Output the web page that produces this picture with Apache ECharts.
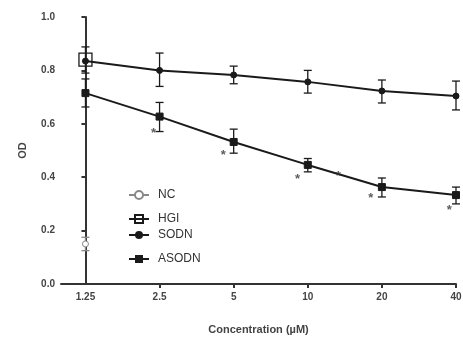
<!DOCTYPE html>
<html>
<head>
<meta charset="utf-8">
<script src="https://cdn.jsdelivr.net/npm/echarts@6/dist/echarts.min.js"></script>
<style>
  html, body { margin: 0; padding: 0; background: #fff; }
  #chart { width: 463px; height: 337px; }
</style>
</head>
<body>
<div id="chart"></div>
<script>
const concLabels = ['1.25', '2.5', '5', '10', '20', '40'];
const xIdx = [0, 1, 2, 3, 4, 5];
const yTicks = ['0.0', '0.2', '0.4', '0.6', '0.8', '1.0'];

const sodnMean = [0.835, 0.800, 0.783, 0.757, 0.723, 0.704];
const sodnLow  = [0.790, 0.740, 0.750, 0.715, 0.678, 0.652];
const sodnHigh = [0.888, 0.865, 0.816, 0.800, 0.764, 0.760];

const asodnMean = [0.715, 0.627, 0.532, 0.446, 0.363, 0.333];
const asodnLow  = [0.663, 0.571, 0.490, 0.420, 0.326, 0.300];
const asodnHigh = [0.768, 0.680, 0.580, 0.470, 0.397, 0.363];

const ncMean = [0.150], ncLow = [0.125], ncHigh = [0.175];
const hgiMean = [0.840];

// asterisks: [x position on index scale, y value]
const starX = [0.92, 1.86, 2.86, 3.41, 3.85, 4.91];
const starY = [0.577, 0.494, 0.404, 0.416, 0.330, 0.288];

const FONT = 'Liberation Sans, Arial, sans-serif';
const INK = '#1a1a1a';

function pts(xs, ys) { return ys.map((v, i) => [xs[i], v]); }
function errData(xs, lo, hi) { return lo.map((v, i) => [xs[i], v, hi[i]]); }

function errSeries(name, data, color) {
  return {
    name: name + '_err',
    type: 'custom',
    silent: true,
    z: 1,
    data: data,
    renderItem: function (params, api) {
      const x = api.value(0);
      const a = api.coord([x, api.value(1)]);
      const b = api.coord([x, api.value(2)]);
      const w = 4;
      const st = { stroke: color, lineWidth: 1.3 };
      return {
        type: 'group',
        children: [
          { type: 'line', shape: { x1: a[0], y1: a[1], x2: b[0], y2: b[1] }, style: st },
          { type: 'line', shape: { x1: a[0] - w, y1: a[1], x2: a[0] + w, y2: a[1] }, style: st },
          { type: 'line', shape: { x1: b[0] - w, y1: b[1], x2: b[0] + w, y2: b[1] }, style: st }
        ]
      };
    }
  };
}

function legendAt(name, top) {
  return {
    data: [name], left: 128, top: top, orient: 'vertical',
    itemWidth: 20, itemHeight: 10, itemGap: 0, padding: 0,
    selectedMode: false,
    textStyle: { fontFamily: FONT, fontSize: 12, color: '#333', padding: [0, 0, 0, 4] }
  };
}

const chart = echarts.init(document.getElementById('chart'), null, { renderer: 'canvas' });

const option = {
  animation: false,
  backgroundColor: '#fff',
  grid: { left: 61, right: 7, top: 17, bottom: 53, containLabel: false, outerBoundsMode: 'none' },
  legend: [
    legendAt('NC', 189),
    legendAt('HGI', 213),
    legendAt('SODN', 229),
    legendAt('ASODN', 253)
  ],
  xAxis: {
    type: 'value',
    min: -0.33, max: 5,
    name: 'Concentration (\u00b5M)',
    nameLocation: 'middle',
    nameGap: 40,
    nameTextStyle: { fontFamily: FONT, fontSize: 11, fontWeight: 'bold', color: '#444' },
    splitLine: { show: false },
    axisLine: { lineStyle: { color: '#333', width: 2 } },
    axisTick: { show: true, customValues: [1, 2, 3, 4, 5], length: 4, inside: false, lineStyle: { color: '#333', width: 2 } },
    axisLabel: {
      customValues: xIdx,
      formatter: function (v) { return concLabels[Math.round(v)]; },
      margin: 8,
      fontFamily: FONT, fontSize: 10, fontWeight: 'bold', color: '#444'
    }
  },
  yAxis: {
    type: 'value',
    min: 0, max: 1, interval: 0.2,
    name: 'OD',
    nameLocation: 'middle',
    nameGap: 33,
    nameTextStyle: { fontFamily: FONT, fontSize: 11, fontWeight: 'bold', color: '#444' },
    splitLine: { show: false },
    axisLine: { show: true, lineStyle: { color: '#333', width: 2 } },
    axisTick: { show: true, length: 4, lineStyle: { color: '#333', width: 2 } },
    axisLabel: {
      formatter: function (v) { return yTicks[Math.round(v * 5)]; },
      margin: 6,
      fontFamily: FONT, fontSize: 10, fontWeight: 'bold', color: '#444'
    }
  },
  series: [
    errSeries('SODN', errData(xIdx, sodnLow, sodnHigh), INK),
    errSeries('ASODN', errData(xIdx, asodnLow, asodnHigh), INK),
    errSeries('NC', errData([0], ncLow, ncHigh), '#888'),
    {
      name: 'NC', type: 'line', data: pts([0], ncMean),
      symbol: 'circle', symbolSize: 6,
      itemStyle: { color: '#fff', borderColor: '#888', borderWidth: 1 },
      lineStyle: { color: '#888', width: 2 }, z: 3
    },
    {
      name: 'HGI', type: 'line', data: pts([0], hgiMean),
      symbol: 'rect', symbolSize: 13,
      itemStyle: { color: 'rgba(255,255,255,0)', borderColor: INK, borderWidth: 1.3 },
      lineStyle: { color: INK, width: 2 }, z: 4
    },
    {
      name: 'SODN', type: 'line', data: pts(xIdx, sodnMean),
      symbol: 'circle', symbolSize: 6,
      itemStyle: { color: INK, borderColor: INK },
      lineStyle: { color: INK, width: 2 }, z: 3
    },
    {
      name: 'ASODN', type: 'line', data: pts(xIdx, asodnMean),
      symbol: 'rect', symbolSize: 7,
      itemStyle: { color: INK, borderColor: INK },
      lineStyle: { color: INK, width: 2 }, z: 3
    },
    {
      name: 'stars', type: 'scatter', data: pts(starX, starY),
      symbol: 'circle', symbolSize: 1, silent: true, z: 5,
      itemStyle: { color: 'rgba(0,0,0,0)' },
      label: {
        show: true, position: 'inside', formatter: '*',
        fontFamily: FONT, fontSize: 13, fontWeight: 'bold', color: '#333', offset: [0, 3]
      }
    }
  ]
};

chart.setOption(option);
</script>
</body>
</html>
